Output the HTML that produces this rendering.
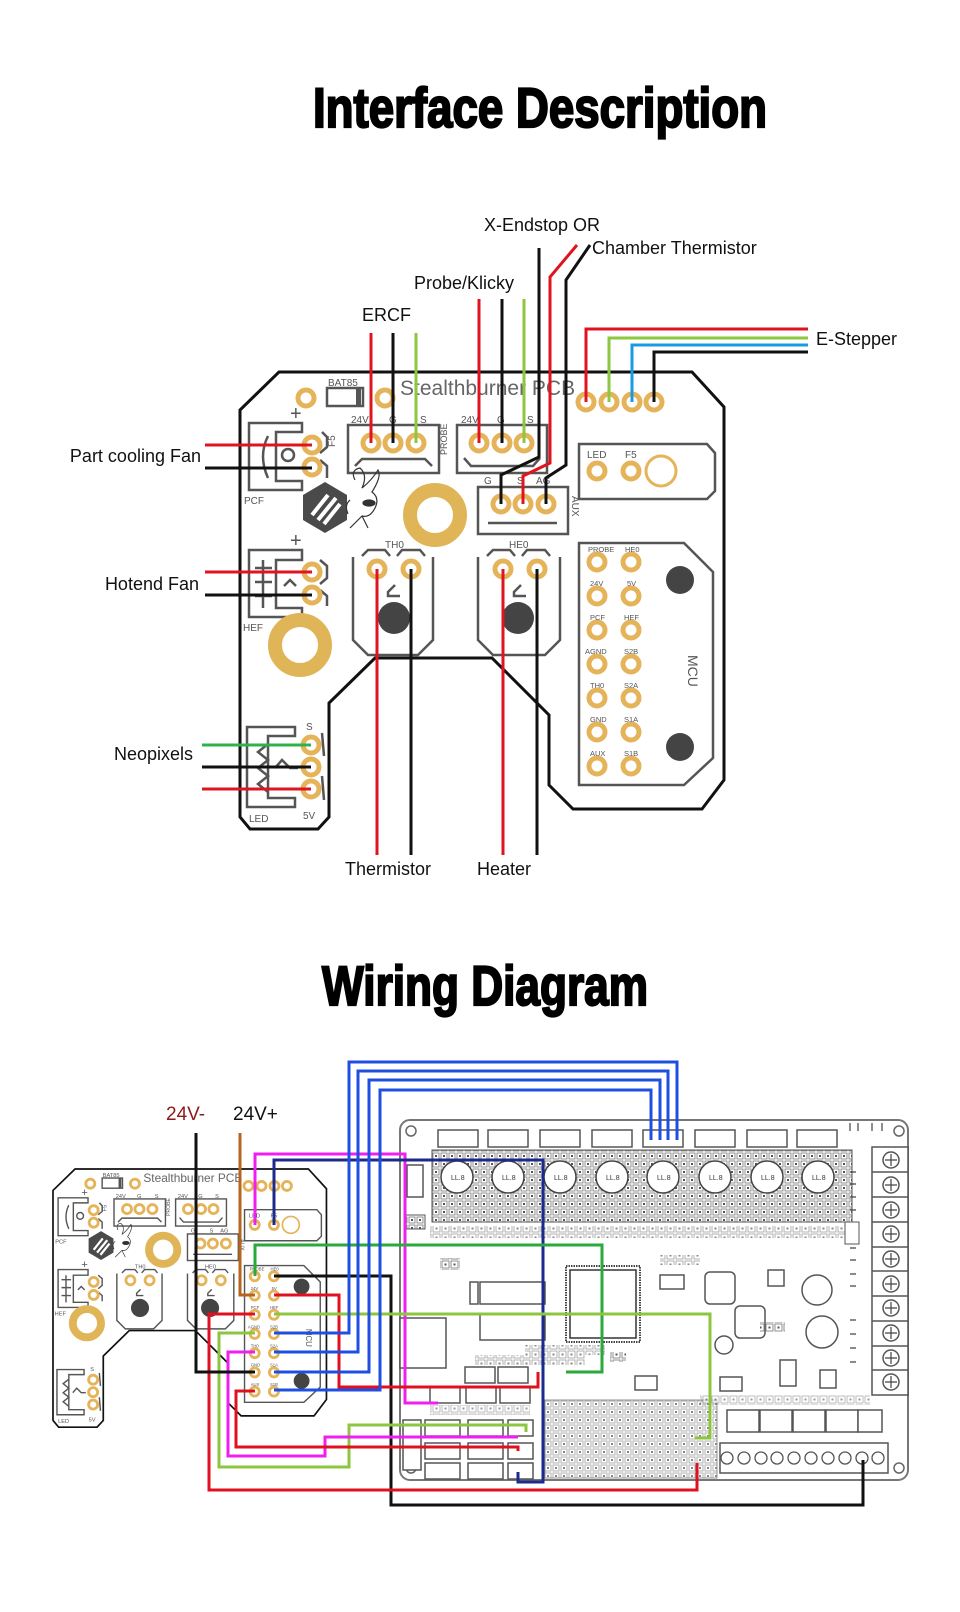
<!DOCTYPE html>
<html><head><meta charset="utf-8"><style>
html,body{margin:0;padding:0;background:#fff;width:960px;height:1612px;overflow:hidden}
svg{display:block}
text{font-family:"Liberation Sans",sans-serif}
</style></head><body>
<svg width="960" height="1612" viewBox="0 0 960 1612" xmlns="http://www.w3.org/2000/svg">
<defs>
<pattern id="grid" width="8" height="8" patternUnits="userSpaceOnUse">
<rect x="1" y="1" width="6" height="6" fill="#fff" stroke="#777" stroke-width="0.8"/>
<rect x="3" y="3" width="2" height="2" fill="#555"/>
</pattern>
<pattern id="grid2" width="9" height="9" patternUnits="userSpaceOnUse">
<rect x="1" y="1" width="7" height="7" fill="#fff" stroke="#777" stroke-width="0.8"/>
<rect x="3.5" y="3.5" width="2" height="2" fill="#555"/>
</pattern>
<g id="board">
<path d="M279,372 L692,372 L724,407 L724,780 L702,809 L573,809 L549,785 L549,715 L492,658 L375,658 L329,703 L329,817 L318,829 L250,829 L240,817 L240,410 Z" fill="#fff" stroke="#111" stroke-width="3"/>
<g fill="none" stroke="#555" stroke-width="2.5">
<path d="M302,423 L249,423 L249,490 L302,490 L302,481 L276,481 L276,432 L302,432 Z"/>
<path d="M268,436 Q258,456 268,478"/>
<circle cx="288" cy="455" r="6"/>
<path d="M322,432 L327,437 L327,447 L320,453 M320,460 L327,466 L327,478"/>
<path d="M302,550 L249,550 L249,617 L302,617 L302,608 L276,608 L276,560 L302,560 Z"/>
<path d="M255,568 H272 M255,582 H272 M255,596 H272 M263,560 V608"/>
<path d="M284,586 L290,580 L296,586"/>
<path d="M320,560 L327,566 L327,578 L320,584 M320,590 L327,596 L327,606"/>
<path d="M295,727 L247,727 L247,807 L295,807 L295,798 L268,798 L268,736 L295,736 Z"/>
<path d="M268,744 L258,752 L268,760 L258,768 L268,776 L258,784 L268,792"/>
<path d="M275,768 L282,760 L290,768 L298,768"/>
<path d="M322,733 L324,756 M322,776 L324,800"/>
<rect x="348" y="425" width="91" height="48"/>
<path d="M355,466 L362,459 L425,459 L432,466"/>
<rect x="457" y="425" width="90" height="48"/>
<path d="M464,458 L471,466 L533,466 L540,458"/>
<rect x="478" y="487" width="90" height="47"/>
<path d="M488,523 H557"/>
<path d="M579,444 L707,444 L715,453 L715,491 L707,499 L579,499 Z"/>
<path d="M579,543 L684,543 L713,572 L713,758 L684,785 L579,785 Z"/>
<path d="M353,557 V640 L368,655 H418 L433,640 V557"/>
<path d="M362,556 L368,550 H385 L390,556 M397,556 L402,550 H420 L425,556"/>
<path d="M395,585 L388,592 V596 H400"/>
<path d="M478,557 V640 L493,655 H545 L560,640 V557"/>
<path d="M487,556 L493,550 H510 L515,556 M522,556 L527,550 H545 L550,556"/>
<path d="M521,585 L514,592 V596 H526"/>
<rect x="327" y="388" width="36" height="18"/>
</g>
<rect x="356" y="388" width="5" height="18" fill="#555"/>
<polygon points="325,482 347,495 347,520 325,533 303,520 303,495" fill="#4a4a4a"/>
<path d="M312,515 L328,495 M318,520 L336,498 M324,524 L340,504" stroke="#fff" stroke-width="4"/>
<g fill="none" stroke="#333" stroke-width="1.2">
<path d="M355,480 Q350,470 360,468 Q368,475 362,488 Q372,480 378,470 Q382,476 372,492 Q380,498 375,508 Q370,518 362,516 Q356,522 350,528 M362,516 L368,528 M350,500 Q344,505 348,514"/>
<ellipse cx="369" cy="503" rx="6" ry="3" fill="#333"/>
</g>
<circle cx="435" cy="515" r="25" fill="none" stroke="#e0b558" stroke-width="14"/>
<circle cx="300" cy="645" r="25" fill="none" stroke="#e0b558" stroke-width="14"/>
<circle cx="661" cy="471" r="15" fill="none" stroke="#e5b45a" stroke-width="3"/>
<circle cx="394" cy="618" r="16" fill="#444"/>
<circle cx="518" cy="618" r="16" fill="#444"/>
<circle cx="680" cy="580" r="14" fill="#444"/>
<circle cx="680" cy="747" r="14" fill="#444"/>
<g fill="#fff" stroke="#e5b45a" stroke-width="5">
<circle cx="306" cy="398" r="8"/><circle cx="385" cy="398" r="8"/>
<circle cx="586" cy="402" r="8"/><circle cx="609" cy="402" r="8"/><circle cx="632" cy="402" r="8"/><circle cx="654" cy="402" r="8"/>
<circle cx="312" cy="445" r="8"/><circle cx="312" cy="467" r="8"/>
<circle cx="312" cy="572" r="8"/><circle cx="312" cy="595" r="8"/>
<circle cx="311" cy="745" r="8"/><circle cx="311" cy="767" r="8"/><circle cx="311" cy="789" r="8"/>
<circle cx="371" cy="443" r="8"/><circle cx="393" cy="443" r="8"/><circle cx="416" cy="443" r="8"/>
<circle cx="479" cy="443" r="8"/><circle cx="502" cy="443" r="8"/><circle cx="524" cy="443" r="8"/>
<circle cx="501" cy="504" r="8"/><circle cx="523" cy="504" r="8"/><circle cx="546" cy="504" r="8"/>
<circle cx="597" cy="471" r="8"/><circle cx="631" cy="471" r="8"/>
<circle cx="377" cy="569" r="8"/><circle cx="411" cy="569" r="8"/>
<circle cx="503" cy="569" r="8"/><circle cx="537" cy="569" r="8"/>
<circle cx="597" cy="562" r="8"/><circle cx="631" cy="562" r="8"/>
<circle cx="597" cy="596" r="8"/><circle cx="631" cy="596" r="8"/>
<circle cx="597" cy="630" r="8"/><circle cx="631" cy="630" r="8"/>
<circle cx="597" cy="664" r="8"/><circle cx="631" cy="664" r="8"/>
<circle cx="597" cy="698" r="8"/><circle cx="631" cy="698" r="8"/>
<circle cx="597" cy="732" r="8"/><circle cx="631" cy="732" r="8"/>
<circle cx="597" cy="766" r="8"/><circle cx="631" cy="766" r="8"/>
</g>
<g fill="#555" font-size="10">
<text x="328" y="386" font-size="10">BAT85</text>
<text x="400" y="395" font-size="21" fill="#666">Stealthburner PCB</text>
<text x="290" y="420" font-size="20">+</text>
<text x="290" y="547" font-size="20">+</text>
<text x="244" y="504">PCF</text>
<text x="243" y="631">HEF</text>
<text x="249" y="822">LED</text>
<text x="306" y="730">S</text>
<text x="303" y="819">5V</text>
<text x="351" y="423">24V</text><text x="389" y="423">G</text><text x="420" y="423">S</text>
<text x="461" y="423">24V</text><text x="497" y="423">G</text><text x="527" y="423">S</text>
<text x="484" y="484">G</text><text x="517" y="484">S</text><text x="536" y="484">AG</text>
<text x="587" y="458">LED</text><text x="625" y="458">F5</text>
<text x="385" y="548">TH0</text><text x="509" y="548">HE0</text>
<text transform="translate(447,455) rotate(-90)" font-size="9">PROBE</text>
<text transform="translate(335,447) rotate(-90)">F5</text>
<text transform="translate(572,496) rotate(90)">AUX</text>
<text transform="translate(688,655) rotate(90)" font-size="14">MCU</text>
<g font-size="7.5">
<text x="588" y="552">PROBE</text><text x="625" y="552">HE0</text>
<text x="590" y="586">24V</text><text x="627" y="586">5V</text>
<text x="590" y="620">PCF</text><text x="624" y="620">HEF</text>
<text x="585" y="654">AGND</text><text x="624" y="654">S2B</text>
<text x="590" y="688">TH0</text><text x="624" y="688">S2A</text>
<text x="590" y="722">GND</text><text x="624" y="722">S1A</text>
<text x="590" y="756">AUX</text><text x="624" y="756">S1B</text>
</g>
</g>
</g>
</defs>

<text x="313" y="127" font-size="56" font-weight="bold" stroke="#000" stroke-width="2.2" textLength="454" lengthAdjust="spacingAndGlyphs">Interface Description</text>

<use href="#board"/>

<g fill="none" stroke-width="3">
<path d="M205,445 H312" stroke="#e0141e"/>
<path d="M205,468 H312" stroke="#111"/>
<path d="M205,572 H312" stroke="#e0141e"/>
<path d="M205,595 H312" stroke="#111"/>
<path d="M202,745 H311" stroke="#2db34a"/>
<path d="M202,767 H311" stroke="#111"/>
<path d="M202,789 H311" stroke="#e0141e"/>
<path d="M371,333 V443" stroke="#e0141e"/>
<path d="M393,333 V443" stroke="#111"/>
<path d="M416,333 V443" stroke="#8dc63f"/>
<path d="M479,299 V443" stroke="#e0141e"/>
<path d="M502,299 V443" stroke="#111"/>
<path d="M524,299 V443" stroke="#8dc63f"/>
<path d="M539,248 V457 L501,475 V504" stroke="#111"/>
<path d="M577,245 L550,277 V463 L523,476 V504" stroke="#e0141e"/>
<path d="M590,245 L566,280 V465 L546,478 V504" stroke="#111"/>
<path d="M808,329 H586 V402" stroke="#e0141e"/>
<path d="M808,338 H609 V402" stroke="#8dc63f"/>
<path d="M808,345 H632 V402" stroke="#1a9be0"/>
<path d="M808,352 H654 V402" stroke="#111"/>
<path d="M377,569 V855" stroke="#e0141e"/>
<path d="M411,569 V855" stroke="#111"/>
<path d="M503,569 V855" stroke="#e0141e"/>
<path d="M537,569 V855" stroke="#111"/>
</g>
<g font-size="18" fill="#111">
<text x="484" y="231">X-Endstop OR</text>
<text x="592" y="254">Chamber Thermistor</text>
<text x="414" y="289">Probe/Klicky</text>
<text x="362" y="321">ERCF</text>
<text x="816" y="345">E-Stepper</text>
<text x="201" y="462" text-anchor="end">Part cooling Fan</text>
<text x="199" y="590" text-anchor="end">Hotend Fan</text>
<text x="193" y="760" text-anchor="end">Neopixels</text>
<text x="345" y="875">Thermistor</text>
<text x="477" y="875">Heater</text>
</g>

<text x="322" y="1005" font-size="56" font-weight="bold" stroke="#000" stroke-width="2.2" textLength="326" lengthAdjust="spacingAndGlyphs">Wiring Diagram</text>

<g>
<rect x="400" y="1120" width="508" height="360" rx="10" fill="#fff" stroke="#777" stroke-width="2"/>
<g fill="none" stroke="#666" stroke-width="1.5">
<circle cx="411" cy="1131" r="5"/><circle cx="899" cy="1131" r="5"/><circle cx="411" cy="1468" r="5"/><circle cx="899" cy="1468" r="5"/>
</g>
<g fill="#fff" stroke="#555" stroke-width="1.5">
<rect x="438" y="1130" width="40" height="17"/><rect x="488" y="1130" width="40" height="17"/>
<rect x="540" y="1130" width="40" height="17"/><rect x="592" y="1130" width="40" height="17"/>
<rect x="643" y="1130" width="40" height="17"/><rect x="695" y="1130" width="40" height="17"/>
<rect x="747" y="1130" width="40" height="17"/><rect x="797" y="1130" width="40" height="17"/>
</g>
<g>
<rect x="432" y="1150" width="420" height="72" fill="url(#grid)" stroke="#555"/>
<g fill="#fff" stroke="#444" stroke-width="1.5">
<circle cx="457" cy="1177" r="16"/><circle cx="508" cy="1177" r="16"/><circle cx="560" cy="1177" r="16"/><circle cx="612" cy="1177" r="16"/>
<circle cx="663" cy="1177" r="16"/><circle cx="715" cy="1177" r="16"/><circle cx="767" cy="1177" r="16"/><circle cx="818" cy="1177" r="16"/>
</g>
<g font-size="7" fill="#333">
<text x="451" y="1180">LL.8</text><text x="502" y="1180">LL.8</text><text x="554" y="1180">LL.8</text><text x="606" y="1180">LL.8</text>
<text x="657" y="1180">LL.8</text><text x="709" y="1180">LL.8</text><text x="761" y="1180">LL.8</text><text x="812" y="1180">LL.8</text>
</g>
</g>
<rect x="430" y="1226" width="425" height="12" fill="url(#grid2)" opacity="0.7"/>
<rect x="407" y="1165" width="16" height="32" fill="#fff" stroke="#555" stroke-width="1.5"/>
<rect x="405" y="1215" width="20" height="14" fill="url(#grid)" stroke="#555"/>
<g fill="#fff" stroke="#555" stroke-width="1.5">
<rect x="872" y="1147" width="36" height="248"/>
<circle cx="891" cy="1160" r="8"/><circle cx="891" cy="1185" r="8"/><circle cx="891" cy="1210" r="8"/><circle cx="891" cy="1234" r="8"/><circle cx="891" cy="1259" r="8"/>
<circle cx="891" cy="1284" r="8"/><circle cx="891" cy="1308" r="8"/><circle cx="891" cy="1333" r="8"/><circle cx="891" cy="1358" r="8"/><circle cx="891" cy="1382" r="8"/>
<path d="M872,1172 H908 M872,1197 H908 M872,1222 H908 M872,1247 H908 M872,1271 H908 M872,1296 H908 M872,1321 H908 M872,1346 H908 M872,1370 H908"/>
</g>
<g stroke="#444" stroke-width="1.2" fill="none">
<path d="M885,1160 h12 M891,1154 v12 M885,1185 h12 M891,1179 v12 M885,1210 h12 M891,1204 v12 M885,1234 h12 M891,1228 v12 M885,1259 h12 M891,1253 v12 M885,1284 h12 M891,1278 v12 M885,1308 h12 M891,1302 v12 M885,1333 h12 M891,1327 v12 M885,1358 h12 M891,1352 v12 M885,1382 h12 M891,1376 v12"/>
<path d="M850,1123 v8 M858,1123 v8 M872,1123 v8 M882,1123 v8"/>
<path d="M850,1172 h6 M850,1184 h6 M850,1197 h6 M850,1210 h6 M850,1248 h6 M850,1260 h6 M850,1274 h6 M850,1286 h6 M850,1320 h6 M850,1334 h6 M850,1348 h6 M850,1362 h6"/>
</g>
<rect x="845" y="1222" width="14" height="22" fill="#fff" stroke="#555"/>
<rect x="566" y="1266" width="74" height="76" fill="#fff" stroke="#444" stroke-width="2" stroke-dasharray="1.5 1"/>
<rect x="570" y="1270" width="66" height="68" fill="#fff" stroke="#333" stroke-width="1.5"/>
<g fill="#fff" stroke="#555" stroke-width="1.5">
<rect x="480" y="1282" width="65" height="22"/><rect x="480" y="1314" width="65" height="26"/>
<rect x="470" y="1282" width="8" height="22"/>
<rect x="400" y="1318" width="46" height="50"/>
<rect x="705" y="1272" width="30" height="32" rx="5"/>
<rect x="735" y="1306" width="30" height="32" rx="5"/>
<circle cx="724" cy="1345" r="9"/>
<circle cx="817" cy="1290" r="15"/><circle cx="822" cy="1332" r="16"/>
<rect x="768" y="1270" width="16" height="16"/>
<rect x="660" y="1275" width="24" height="14"/>
<rect x="635" y="1376" width="22" height="14"/>
<rect x="720" y="1377" width="22" height="14"/>
<rect x="780" y="1360" width="16" height="26"/>
<rect x="820" y="1370" width="16" height="18"/>
<rect x="727" y="1410" width="32" height="22"/><rect x="760" y="1410" width="32" height="22"/>
<rect x="793" y="1410" width="32" height="22"/><rect x="826" y="1410" width="32" height="22"/><rect x="858" y="1410" width="24" height="22"/>
<rect x="720" y="1443" width="168" height="30"/>
<rect x="430" y="1387" width="30" height="16"/><rect x="466" y="1387" width="30" height="16"/><rect x="500" y="1387" width="30" height="16"/>
<rect x="425" y="1420" width="35" height="16"/><rect x="468" y="1420" width="35" height="16"/><rect x="508" y="1420" width="25" height="16"/>
<rect x="425" y="1443" width="35" height="16"/><rect x="468" y="1443" width="35" height="16"/><rect x="508" y="1443" width="25" height="16"/>
<rect x="425" y="1463" width="35" height="16"/><rect x="468" y="1463" width="35" height="16"/><rect x="508" y="1463" width="25" height="16"/>
<rect x="403" y="1420" width="18" height="50"/>
<rect x="465" y="1367" width="30" height="16"/><rect x="498" y="1367" width="30" height="16"/>
</g>
<g fill="#fff" stroke="#555" stroke-width="1.3">
<circle cx="727" cy="1458" r="6"/><circle cx="744" cy="1458" r="6"/><circle cx="761" cy="1458" r="6"/><circle cx="777" cy="1458" r="6"/><circle cx="794" cy="1458" r="6"/>
<circle cx="811" cy="1458" r="6"/><circle cx="828" cy="1458" r="6"/><circle cx="845" cy="1458" r="6"/><circle cx="862" cy="1458" r="6"/><circle cx="878" cy="1458" r="6"/>
</g>
<rect x="545" y="1400" width="172" height="78" fill="url(#grid)" stroke="#666" opacity="0.7"/>
<rect x="475" y="1355" width="110" height="10" fill="url(#grid2)" opacity="0.7"/>
<rect x="525" y="1345" width="80" height="10" fill="url(#grid2)" opacity="0.7"/>
<rect x="430" y="1405" width="100" height="10" fill="url(#grid2)" opacity="0.6"/>
<rect x="700" y="1395" width="170" height="10" fill="url(#grid2)" opacity="0.6"/>
<rect x="440" y="1258" width="20" height="12" fill="url(#grid2)"/>
<rect x="660" y="1255" width="40" height="10" fill="url(#grid2)" opacity="0.7"/>
<rect x="610" y="1352" width="16" height="10" fill="url(#grid2)"/>
<rect x="760" y="1322" width="25" height="10" fill="url(#grid2)"/>
</g>

<use href="#board" transform="translate(-82.6,958.8) scale(0.565)"/>

<g fill="none" stroke-width="3">
<path d="M255,1225 V1154 H405 V1403 H438" stroke="#f01ef0"/>
<path d="M274,1225 V1160 H543 V1482 H518 V1472" stroke="#1c2a8c"/>
<path d="M255,1276 V1245 H602 V1372 H566" stroke="#2aaa3a"/>
<path d="M274,1276 H391 V1505 H863 V1460" stroke="#111"/>
<path d="M274,1295 H339 V1387 H538 V1372" stroke="#e01020"/>
<path d="M274,1314 H710 V1438 H695" stroke="#8cc63f"/>
<path d="M255,1314 H209 V1490 H697 V1463" stroke="#e01020"/>
<path d="M255,1333 H219 V1467 H349 V1425 H526 V1432" stroke="#8cc63f"/>
<path d="M255,1352 H228 V1456 H325 V1437 H518" stroke="#f01ef0"/>
<path d="M255,1391 H236 V1447 H518 V1451" stroke="#e01020"/>
<path d="M196,1133 V1372 H255" stroke="#111"/>
<path d="M240,1133 V1295 H255" stroke="#b5651d"/>
<path d="M274,1333 H349 V1062 H677 V1140" stroke="#1f4fe0"/>
<path d="M274,1352 H358 V1071 H668 V1140" stroke="#1f4fe0"/>
<path d="M274,1372 H369 V1080 H660 V1140" stroke="#1f4fe0"/>
<path d="M274,1390 H380 V1090 H651 V1140" stroke="#1f4fe0"/>
</g>
<text x="166" y="1120" font-size="19" fill="#8b1a1a">24V-</text>
<text x="233" y="1120" font-size="19" fill="#111">24V+</text>
</svg>
</body></html>
